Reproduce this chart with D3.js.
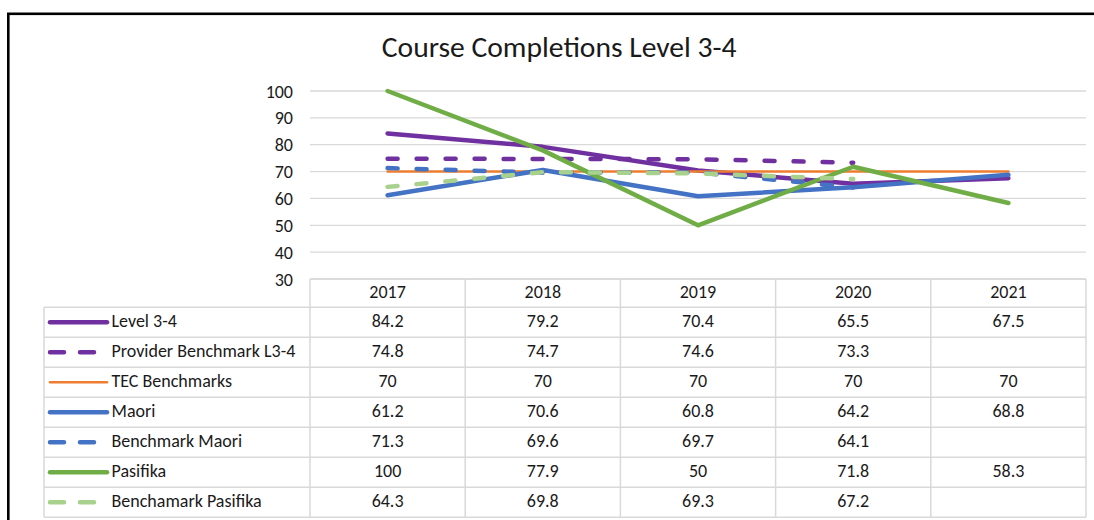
<!DOCTYPE html>
<html>
<head>
<meta charset="utf-8">
<script src="https://cdn.jsdelivr.net/npm/d3@7"></script>
<style>
  html, body { margin: 0; padding: 0; background: #fff; }
  svg { display: block; }
  text { font-family: Carlito, Lato, "Noto Sans", sans-serif; fill: #1a1a1a; }
</style>
</head>
<body>
<svg id="chart" width="1094" height="520"></svg>
<script>
// ---- data ----
const title = "Course Completions Level 3-4";
const years = ["2017", "2018", "2019", "2020", "2021"];
const yTicks = [30, 40, 50, 60, 70, 80, 90, 100];
const seriesNames = ["Level 3-4", "Provider Benchmark L3-4", "TEC Benchmarks", "Maori", "Benchmark Maori", "Pasifika", "Benchamark Pasifika"];
const level34 = [84.2, 79.2, 70.4, 65.5, 67.5];
const providerBenchmark = [74.8, 74.7, 74.6, 73.3, null];
const tecBenchmarks = [70, 70, 70, 70, 70];
const maori = [61.2, 70.6, 60.8, 64.2, 68.8];
const benchmarkMaori = [71.3, 69.6, 69.7, 64.1, null];
const pasifika = [100, 77.9, 50, 71.8, 58.3];
const benchmarkPasifika = [64.3, 69.8, 69.3, 67.2, null];

// ---- styles ----
const styles = [
  {color: "#7030A0", width: 4.5, dash: null},
  {color: "#7030A0", width: 4.5, dash: "10,19"},
  {color: "#ED7D31", width: 2.5, dash: null},
  {color: "#4472C4", width: 4.5, dash: null},
  {color: "#4472C4", width: 4.5, dash: "10,19"},
  {color: "#70AD47", width: 4.5, dash: null},
  {color: "#A9D18E", width: 4.5, dash: "10,19"}
];
const values = [level34, providerBenchmark, tecBenchmarks, maori, benchmarkMaori, pasifika, benchmarkPasifika];
const series = seriesNames.map((n, i) => ({name: n, values: values[i], style: styles[i]}));

const svg = d3.select("#chart");
const W = 1094, H = 520;
const plotLeft = 310, plotRight = 1086, plotTop = 91, plotBottom = 279;
const tableLeft = 44, headerH = 28.3, rowH = 30;

// outer frame
svg.append("rect").attr("x", 8.3).attr("y", 13.8).attr("width", W + 20).attr("height", H + 20)
  .attr("fill", "none").attr("stroke", "#000").attr("stroke-width", 2.6);

const x = d3.scaleBand().domain(years).range([plotLeft, plotRight]).paddingInner(0).paddingOuter(0);
const y = d3.scaleLinear().domain([30, 100]).range([plotBottom, plotTop]);

// measure helper for fitting font size
function fitSize(str, targetW, weight) {
  const t = svg.append("text").attr("font-size", 100).attr("font-weight", weight || "normal").text(str);
  const w = t.node().getComputedTextLength();
  t.remove();
  return 100 * targetW / w;
}
const bodySize = Math.min(18, fitSize("Provider Benchmark L3-4", 193));
const titleSize = fitSize(title, 355);

// title
svg.append("text").attr("x", (381.7 + 736.7) / 2).attr("y", 57.3).attr("text-anchor", "middle")
  .attr("font-size", titleSize).text(title);

// gridlines
svg.append("g").selectAll("line").data(yTicks).join("line")
  .attr("x1", plotLeft).attr("x2", plotRight)
  .attr("y1", d => y(d)).attr("y2", d => y(d))
  .attr("stroke", "#D9D9D9").attr("stroke-width", 1.3);

// y axis
const yAxis = d3.axisLeft(y).tickValues(yTicks).tickSize(0).tickPadding(0);
const gy = svg.append("g").attr("transform", `translate(293,0)`).call(yAxis);
gy.select(".domain").remove();
gy.selectAll("text").attr("font-size", bodySize).attr("fill", "#1a1a1a")
  .attr("font-family", "Carlito, Lato, 'Noto Sans', sans-serif").attr("dy", "0.34em");

// lines
const line = d3.line()
  .defined(d => d.v != null)
  .x(d => x(d.year) + x.bandwidth() / 2)
  .y(d => y(d.v));
svg.append("g").selectAll("path").data(series).join("path")
  .attr("d", s => line(s.values.map((v, i) => ({year: years[i], v}))))
  .attr("fill", "none")
  .attr("stroke", s => s.style.color)
  .attr("stroke-width", s => s.style.width)
  .attr("stroke-dasharray", s => s.style.dash)
  .attr("stroke-linecap", "round")
  .attr("stroke-linejoin", "round");

// data table
const tbl = svg.append("g");
const gridColor = "#D9D9D9";
const tableBottom = plotBottom + headerH + rowH * series.length;
// header top border
tbl.append("line").attr("x1", plotLeft).attr("x2", plotRight).attr("y1", plotBottom).attr("y2", plotBottom)
  .attr("stroke", gridColor).attr("stroke-width", 1.5);
// row borders
const rowTops = series.map((s, i) => plotBottom + headerH + rowH * i);
tbl.selectAll("line.row").data(rowTops.concat([tableBottom])).join("line").attr("class", "row")
  .attr("x1", tableLeft).attr("x2", plotRight).attr("y1", d => d).attr("y2", d => d)
  .attr("stroke", gridColor).attr("stroke-width", 1.5);
// column borders
const colEdges = years.map(yr => x(yr)).concat([plotRight]);
tbl.selectAll("line.col").data(colEdges).join("line").attr("class", "col")
  .attr("x1", d => d).attr("x2", d => d).attr("y1", plotBottom).attr("y2", tableBottom)
  .attr("stroke", gridColor).attr("stroke-width", 1.5);
tbl.append("line").attr("x1", tableLeft).attr("x2", tableLeft)
  .attr("y1", plotBottom + headerH).attr("y2", tableBottom)
  .attr("stroke", gridColor).attr("stroke-width", 1.5);

// header labels
tbl.selectAll("text.hdr").data(years).join("text").attr("class", "hdr")
  .attr("x", d => x(d) + x.bandwidth() / 2).attr("y", plotBottom + 18.8)
  .attr("text-anchor", "middle").attr("font-size", bodySize).text(d => d);

// rows
const rows = tbl.selectAll("g.r").data(series).join("g").attr("class", "r")
  .attr("transform", (s, i) => `translate(0,${rowTops[i]})`);
rows.append("line")
  .attr("x1", 50).attr("x2", s => s.style.dash ? 98 : 107)
  .attr("y1", rowH / 2).attr("y2", rowH / 2)
  .attr("stroke", s => s.style.color)
  .attr("stroke-width", s => s.style.width)
  .attr("stroke-dasharray", s => s.style.dash ? "14,16" : null)
  .attr("stroke-linecap", "round");
rows.append("text").attr("x", 111.5).attr("y", 19.3).attr("font-size", bodySize).text(s => s.name);
rows.selectAll("text.v").data(s => s.values.map((v, i) => ({v, year: years[i]}))).join("text").attr("class", "v")
  .attr("x", d => x(d.year) + x.bandwidth() / 2).attr("y", 19.3)
  .attr("text-anchor", "middle").attr("font-size", bodySize)
  .text(d => d.v == null ? "" : d.v);
</script>
</body>
</html>
